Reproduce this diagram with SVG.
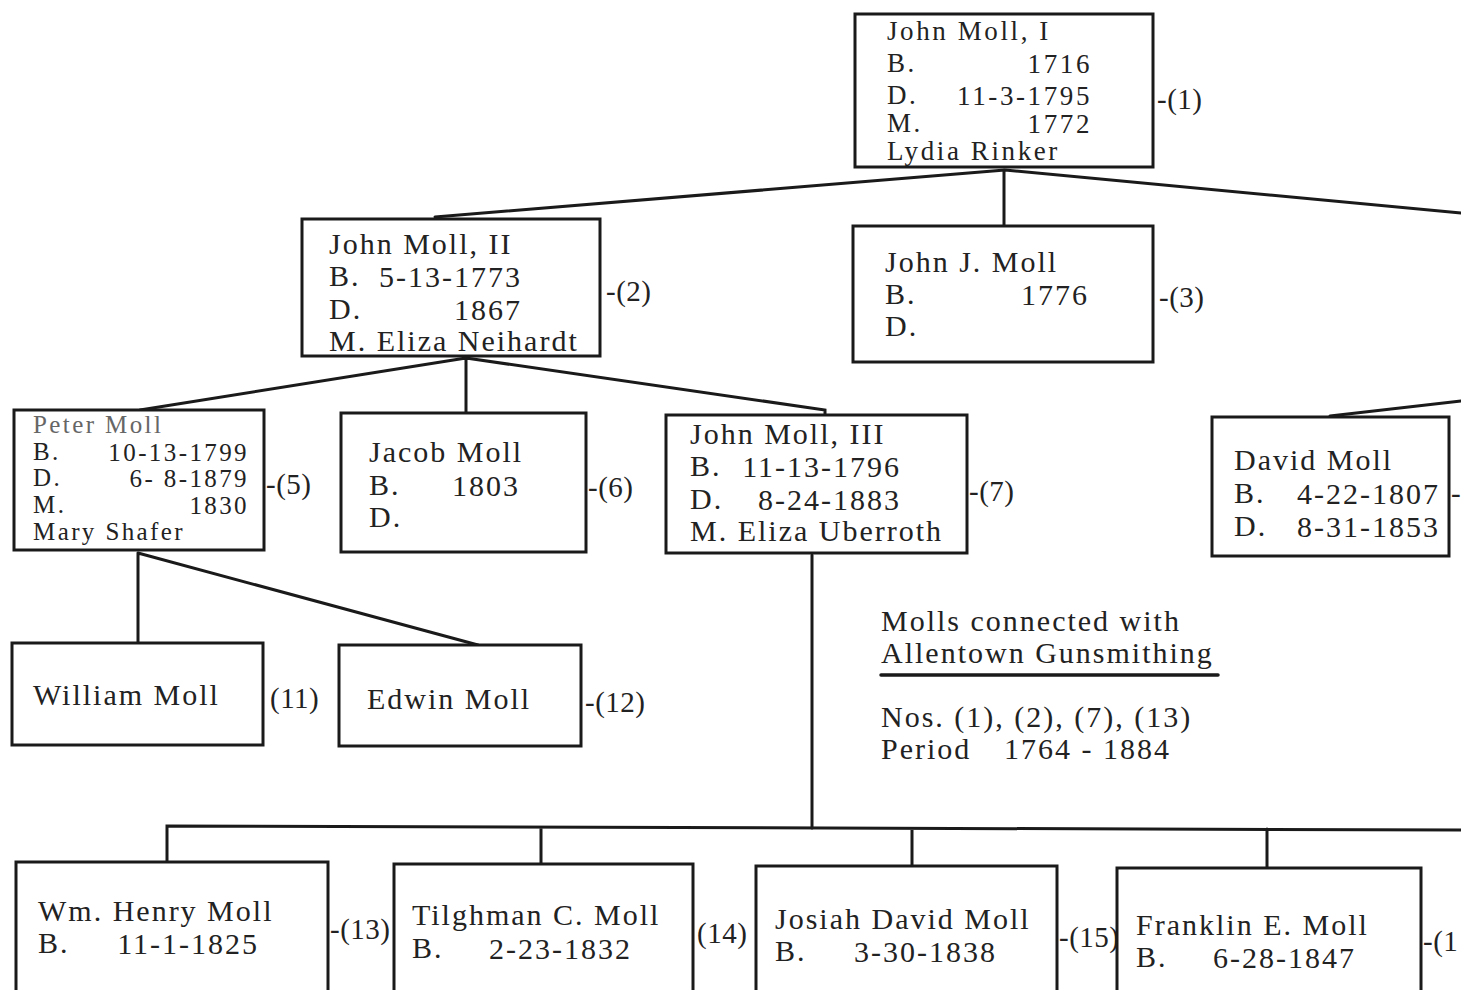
<svg xmlns="http://www.w3.org/2000/svg" width="1461" height="990" viewBox="0 0 1461 990">
<style>
.box{fill:#fff;stroke:#1a1a1a;stroke-width:3}
.ln{fill:none;stroke:#1a1a1a;stroke-width:3;stroke-linecap:round}
text{font-family:"Liberation Serif","Times New Roman",serif;font-size:30px;letter-spacing:2px;fill:#222}
.t{font-size:27px;letter-spacing:2.6px}
.s{font-size:25px;letter-spacing:2.4px}
.e{text-anchor:end}
.n{font-size:29px;letter-spacing:0.5px}
.g{fill:#666}
</style>
<rect width="1461" height="990" fill="#fff"/>
<g id="connectors">
<path class="ln" d="M1005,170 L435,217 M1004,170 L1004,227 M1005,170 L1461,213"/>
<path class="ln" d="M466,358 L140,410 M466,358 L466,412 M466,358 L825,410 L825,414"/>
<path class="ln" d="M1330,416 L1461,401"/>
<path class="ln" d="M138,553 L138,643 M138,553 L478,645"/>
<path class="ln" d="M812,555 L812,828"/>
<path class="ln" d="M167,862 L167,826 L1461,830 M541,828 L541,864 M912,829 L912,866 M1267,829 L1267,868"/>
<path class="ln" d="M881,675 L1218,675" style="stroke-width:3.5"/>
</g>
<g id="n1">
<rect class="box" x="855" y="14" width="298" height="153"/>
<text class="t" x="887" y="40">John Moll, I</text>
<text class="t" x="887" y="72">B.</text><text class="t e" x="1092" y="73">1716</text>
<text class="t" x="887" y="104">D.</text><text class="t e" x="1092" y="105">11-3-1795</text>
<text class="t" x="887" y="132">M.</text><text class="t e" x="1092" y="133">1772</text>
<text class="t" x="887" y="160">Lydia Rinker</text>
<text class="n" x="1157" y="109">-(1)</text>
</g>
<g id="n2">
<rect class="box" x="302" y="219" width="298" height="137"/>
<text x="329" y="254">John Moll, II</text>
<text x="329" y="286">B.</text><text class="e" x="522" y="287">5-13-1773</text>
<text x="329" y="319">D.</text><text class="e" x="522" y="320">1867</text>
<text x="329" y="351">M. Eliza Neihardt</text>
<text class="n" x="606" y="301">-(2)</text>
</g>
<g id="n3">
<rect class="box" x="853" y="226" width="300" height="136"/>
<text x="885" y="272">John J. Moll</text>
<text x="885" y="304">B.</text><text class="e" x="1089" y="305">1776</text>
<text x="885" y="336">D.</text>
<text class="n" x="1159" y="307">-(3)</text>
</g>
<g id="n5">
<rect class="box" x="14" y="410" width="250" height="140"/>
<text class="s g" x="33" y="433">Peter Moll</text>
<text class="s" x="33" y="460">B.</text><text class="s e" x="249" y="461">10-13-1799</text>
<text class="s" x="33" y="486">D.</text><text class="s e" x="249" y="487">6- 8-1879</text>
<text class="s" x="33" y="513">M.</text><text class="s e" x="249" y="514">1830</text>
<text class="s" x="33" y="540">Mary Shafer</text>
<text class="n" x="266" y="494">-(5)</text>
</g>
<g id="n6">
<rect class="box" x="341" y="413" width="245" height="139"/>
<text x="369" y="462">Jacob Moll</text>
<text x="369" y="495">B.</text><text class="e" x="520" y="496">1803</text>
<text x="369" y="527">D.</text>
<text class="n" x="588" y="497">-(6)</text>
</g>
<g id="n7">
<rect class="box" x="666" y="415" width="301" height="138"/>
<text x="690" y="444">John Moll, III</text>
<text x="690" y="476">B.</text><text class="e" x="901" y="477">11-13-1796</text>
<text x="690" y="509">D.</text><text class="e" x="901" y="510">8-24-1883</text>
<text x="690" y="541">M. Eliza Uberroth</text>
<text class="n" x="969" y="501">-(7)</text>
</g>
<g id="n8">
<rect class="box" x="1212" y="417" width="237" height="139"/>
<text x="1234" y="470">David Moll</text>
<text x="1234" y="503">B.</text><text class="e" x="1440" y="504">4-22-1807</text>
<text x="1234" y="536">D.</text><text class="e" x="1440" y="537">8-31-1853</text>
<text class="n" x="1451" y="503">-</text>
</g>
<g id="n11">
<rect class="box" x="12" y="643" width="251" height="102"/>
<text x="33" y="705">William Moll</text>
<text class="n" x="270" y="708">(11)</text>
</g>
<g id="n12">
<rect class="box" x="339" y="645" width="242" height="101"/>
<text x="367" y="709">Edwin Moll</text>
<text class="n" x="585" y="712">-(12)</text>
</g>
<g id="legend">
<text x="881" y="631">Molls connected with</text>
<text x="881" y="663">Allentown Gunsmithing</text>
<text x="881" y="727">Nos. (1), (2), (7), (13)</text>
<text x="881" y="759">Period</text><text x="1004" y="759">1764 - 1884</text>
</g>
<g id="n13">
<rect class="box" x="16" y="862" width="312" height="140"/>
<text x="38" y="921">Wm. Henry Moll</text>
<text x="38" y="953">B.</text><text class="e" x="259" y="954">11-1-1825</text>
<text class="n" x="330" y="939">-(13)</text>
</g>
<g id="n14">
<rect class="box" x="394" y="864" width="299" height="140"/>
<text x="412" y="925">Tilghman C. Moll</text>
<text x="412" y="958">B.</text><text class="e" x="632" y="959">2-23-1832</text>
<text class="n" x="697" y="943">(14)</text>
</g>
<g id="n15">
<rect class="box" x="756" y="866" width="301" height="140"/>
<text x="775" y="929">Josiah David Moll</text>
<text x="775" y="961">B.</text><text class="e" x="997" y="962">3-30-1838</text>
<text class="n" x="1059" y="947">-(15)</text>
</g>
<g id="n16">
<rect class="box" x="1117" y="868" width="304" height="140"/>
<text x="1136" y="935">Franklin E. Moll</text>
<text x="1136" y="967">B.</text><text class="e" x="1356" y="968">6-28-1847</text>
<text class="n" x="1423" y="951">-(1</text>
</g>
</svg>
